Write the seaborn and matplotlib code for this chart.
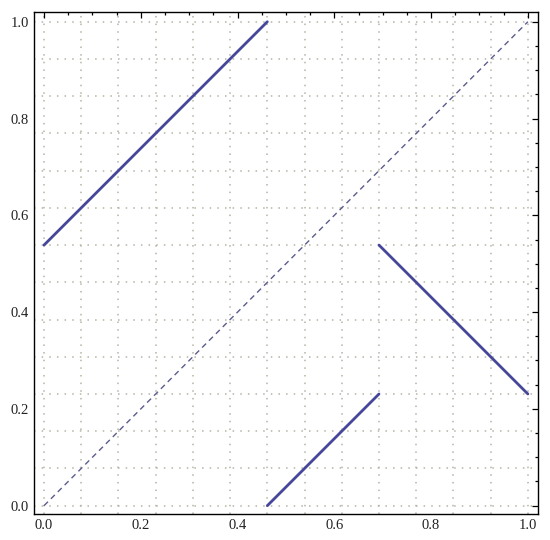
import numpy as np
import pandas as pd
import matplotlib
matplotlib.use("Agg")
import matplotlib.pyplot as plt
from matplotlib.ticker import MultipleLocator
import seaborn as sns

# ── Data ───────────────────────────────────────────────────────────────────────
# three solid pieces of a piecewise-linear map
seg_id = ["a", "a", "b", "b", "c", "c"]
seg_x = [0.0, 0.4615, 0.4615, 0.6923, 0.6923, 1.0]
seg_y = [0.5385, 1.0, 0.0, 0.2308, 0.5385, 0.2308]

# dashed identity line
diag_x = [0.0, 1.0]
diag_y = [0.0, 1.0]

tick_labels = ["0.0", "0.2", "0.4", "0.6", "0.8", "1.0"]

segs = pd.DataFrame({"segment": seg_id, "x": seg_x, "y": seg_y})
diag = pd.DataFrame({"x": diag_x, "y": diag_y})

# ── Figure ─────────────────────────────────────────────────────────────────────
sns.set_style("white")
plt.rcParams["font.family"] = ["Liberation Serif", "DejaVu Serif"]

fig = plt.figure(figsize=(5.5, 5.4), dpi=100)
ax = fig.add_axes([0.0613, 0.0476, 0.9167, 0.9307])

# dotted grid on a 1/13 lattice
for g in np.arange(14) / 13:
    ax.axvline(g, color="#b4b4a4", lw=1.1, ls=(0, (1, 4)), zorder=0)
    ax.axhline(g, color="#b4b4a4", lw=1.1, ls=(0, (1, 4)), zorder=0)

sns.lineplot(data=diag, x="x", y="y", ax=ax, color="#5c5c8c", lw=1.0,
             estimator=None, sort=False)
ax.lines[-1].set_dashes((4, 3))

sns.lineplot(data=segs, x="x", y="y", units="segment", estimator=None,
             sort=False, ax=ax, color="#46469a", lw=2.0)

ax.set_xlim(-0.0213, 1.0207)
ax.set_ylim(-0.0178, 1.0207)
ax.set_xlabel("")
ax.set_ylabel("")

ticks = np.arange(6) * 0.2
ax.set_xticks(ticks)
ax.set_xticklabels(tick_labels)
ax.set_yticks(ticks)
ax.set_yticklabels(tick_labels)
ax.xaxis.set_minor_locator(MultipleLocator(0.05))
ax.yaxis.set_minor_locator(MultipleLocator(0.05))
ax.tick_params(which="both", direction="in", top=True, right=True,
               color="black", width=0.9)
ax.tick_params(which="major", length=4.5, labelsize=10.5, pad=3.5,
               labelcolor="#222222")
ax.tick_params(which="minor", length=2.2)

for s in ax.spines.values():
    s.set_visible(True)
    s.set_color("black")
    s.set_linewidth(1.0)

plt.savefig("out.png", dpi=100)
plt.close()
